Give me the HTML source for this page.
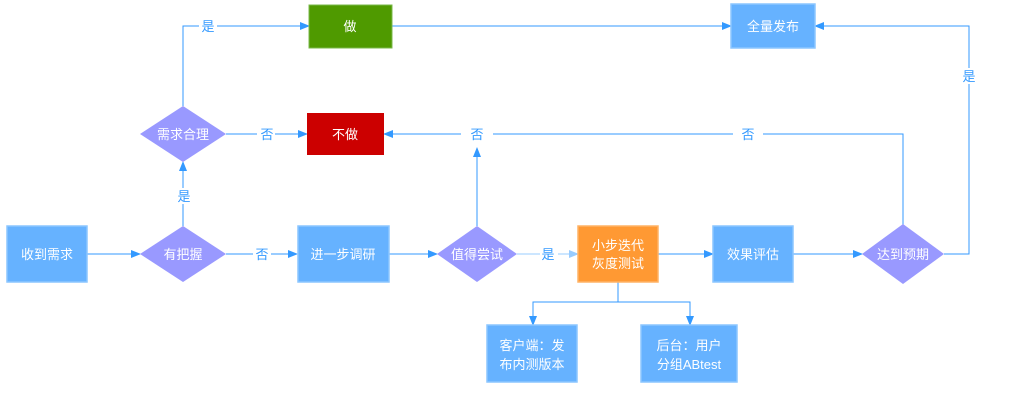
<!DOCTYPE html>
<html><head><meta charset="utf-8"><style>
html,body{margin:0;padding:0;background:#fff;}
svg text{font-family:"Liberation Sans","Noto Sans CJK SC",sans-serif;font-size:13px;}
</style></head><body>
<svg width="1027" height="404" viewBox="0 0 1027 404" xmlns="http://www.w3.org/2000/svg">
<defs>
<marker id="a" markerWidth="10" markerHeight="8" refX="9" refY="4" orient="auto" markerUnits="userSpaceOnUse"><path d="M0,0 L10,4 L0,8 Z" fill="#3399ff"/></marker>
<marker id="b" markerWidth="10" markerHeight="8" refX="9" refY="4" orient="auto" markerUnits="userSpaceOnUse"><path d="M0,0 L10,4 L0,8 Z" fill="#99ccff"/></marker>
</defs>
<g fill="none" stroke="#3399ff" stroke-width="1">
<line x1="87" y1="254" x2="140" y2="254" marker-end="url(#a)"/>
<line x1="226" y1="254" x2="297" y2="254" marker-end="url(#a)"/>
<line x1="183" y1="226" x2="183" y2="162" marker-end="url(#a)"/>
<polyline points="183,106 183,26 309,26" marker-end="url(#a)"/>
<line x1="226" y1="134" x2="307" y2="134" marker-end="url(#a)"/>
<line x1="389" y1="254" x2="437" y2="254" marker-end="url(#a)"/>
<line x1="477" y1="226" x2="477" y2="148" marker-end="url(#a)"/>
<line x1="517" y1="254" x2="578" y2="254" stroke="#99ccff" marker-end="url(#b)"/>
<line x1="392" y1="26" x2="731" y2="26" marker-end="url(#a)"/>
<line x1="658" y1="254" x2="713" y2="254" marker-end="url(#a)"/>
<line x1="793" y1="254" x2="862" y2="254" marker-end="url(#a)"/>
<polyline points="944,254 969,254 969,26 815,26" marker-end="url(#a)"/>
<polyline points="903,226 903,134 384,134" marker-end="url(#a)"/>
<polyline points="618,282 618,302 533,302 533,325" marker-end="url(#a)"/>
<polyline points="618,302 690,302 690,325" marker-end="url(#a)"/>
</g>
<!-- label backgrounds -->
<g fill="#fff">
<rect x="199" y="18" width="18" height="16"/>
<rect x="175" y="188" width="17" height="16"/>
<rect x="257" y="126" width="18" height="16"/>
<rect x="253" y="246" width="18" height="16"/>
<rect x="461" y="126" width="32" height="16"/>
<rect x="733" y="126" width="30" height="16"/>
<rect x="540" y="246" width="18" height="16"/>
<rect x="960" y="68" width="18" height="16"/>
</g>
<g fill="#3399ff" text-anchor="middle" font-size="12">
<text x="208" y="31">是</text>
<text x="184" y="201">是</text>
<text x="267" y="139">否</text>
<text x="262" y="259">否</text>
<text x="477" y="139">否</text>
<text x="748" y="139">否</text>
<text x="548" y="259" fill="#3399ff">是</text>
<text x="969" y="81">是</text>
</g>
<!-- boxes -->
<g stroke="#8cc6ff" stroke-width="1.5" fill="#66b2ff">
<rect x="7" y="226" width="80" height="56"/>
<rect x="298" y="226" width="91" height="56"/>
<rect x="713" y="226" width="80" height="56"/>
<rect x="731" y="4" width="84" height="44"/>
<rect x="487" y="325" width="90" height="57"/>
<rect x="641" y="325" width="96" height="57"/>
</g>
<rect x="578" y="226" width="80" height="56" fill="#ff9933" stroke="#ffb366" stroke-width="1.5"/>
<rect x="309" y="5" width="83" height="43" fill="#4f9a00" stroke="#7ab84a"/>
<rect x="307" y="113" width="77" height="42" fill="#cc0000"/>
<g fill="#9999ff">
<polygon points="183,226 226,254 183,282 140,254"/>
<polygon points="183,106 226,134 183,162 140,134"/>
<polygon points="477,226 517,254 477,282 437,254"/>
<polygon points="903,224 944,254 903,284 862,254"/>
</g>
<g fill="#fff" text-anchor="middle">
<text x="47" y="259">收到需求</text>
<text x="183" y="259">有把握</text>
<text x="183" y="139">需求合理</text>
<text x="350" y="31">做</text>
<text x="345" y="139">不做</text>
<text x="343" y="259">进一步调研</text>
<text x="477" y="259">值得尝试</text>
<text x="618" y="250">小步迭代</text>
<text x="618" y="268">灰度测试</text>
<text x="753" y="259">效果评估</text>
<text x="903" y="259">达到预期</text>
<text x="773" y="31">全量发布</text>
<text x="532" y="350">客户端：发</text>
<text x="532" y="369">布内测版本</text>
<text x="689" y="350">后台：用户</text>
<text x="689" y="369">分组ABtest</text>
</g>
</svg>
</body></html>
